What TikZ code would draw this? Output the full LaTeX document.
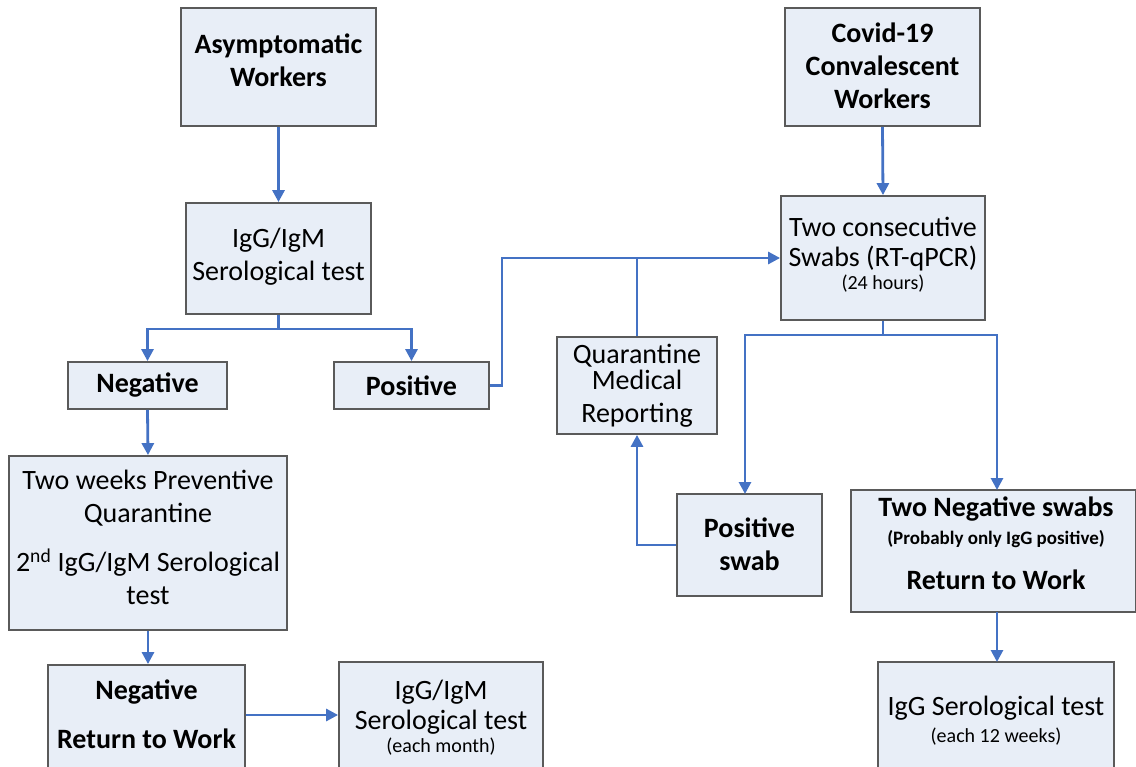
\documentclass[tikz,border=0pt]{standalone}
\usepackage{fontspec}
\setmainfont{Carlito}
\usetikzlibrary{arrows.meta}
\definecolor{boxfill}{HTML}{E8EEF7}
\definecolor{boxline}{HTML}{5A5A5A}
\definecolor{conn}{HTML}{4472C4}
\tikzset{
  box/.style={draw=boxline, line width=1.8pt, fill=boxfill, inner sep=0pt},
  txt/.style={inner sep=0pt, align=center, font=\fontsize{28}{33}\selectfont},
  con/.style={draw=conn, line width=2.8pt, -{Triangle[length=12pt,width=12pt]}},
  conplain/.style={draw=conn, line width=2.8pt},
}
\newcommand{\sm}{\fontsize{20}{24}\selectfont}
\newcommand{\smb}{\fontsize{19}{23}\selectfont\bfseries}
\begin{document}
\begin{tikzpicture}[x=1pt,y=-1pt]
\useasboundingbox (0,0) rectangle (1136,767);
% left column boxes
\node[box, minimum width=195pt, minimum height=118pt] (asym) at (278.5,67) {};
\node[txt] (asymT) at (278.5,60.5) {\textbf{Asymptomatic}\\\textbf{Workers}};
\node[box, minimum width=185pt, minimum height=111pt] (igg1) at (278.5,258.5) {};
\node[txt] (igg1T) at (278.5,256.5) {IgG/IgM\\Serological test};
\node[box, minimum width=159pt, minimum height=47pt] (neg) at (147.5,385.5) {};
\node[txt] (negT) at (147.5,385.5) {\textbf{Negative}};
\node[box, minimum width=155pt, minimum height=47pt] (pos) at (411.5,385.5) {};
\node[txt] (posT) at (411.5,385.5) {\textbf{Positive}};
\node[box, minimum width=278pt, minimum height=174pt] (twoweeks) at (148,543) {};
\node[txt] (twoweeksT) at (148,537) {Two weeks Preventive\\Quarantine\\[16pt]2\textsuperscript{nd} IgG/IgM Serological\\test};
\node[box, minimum width=197pt, minimum height=104pt] (negrtw) at (146.5,717) {};
\node[txt] (negrtwT) at (146.5,714.5) {\textbf{Negative}\\[16pt]\textbf{Return to Work}};
\node[box, minimum width=204pt, minimum height=106pt] (iggmonth) at (441,715) {};
\node[txt] (iggmonthT) at (441,717.5) {IgG/IgM\\[-3pt]Serological test\\[-10pt]{\sm (each month)}};
% right column boxes
\node[box, minimum width=195pt, minimum height=118pt] (covid) at (882.5,67) {};
\node[txt] (covidT) at (882.5,66) {\textbf{Covid-19}\\\textbf{Convalescent}\\\textbf{Workers}};
\node[box, minimum width=204pt, minimum height=124pt] (swabs) at (883,258) {};
\node[txt] (swabsT) at (883,254.5) {Two consecutive\\[-3pt]Swabs (RT-qPCR)\\[-10pt]{\sm (24 hours)}};
\node[box, minimum width=160pt, minimum height=97pt] (quar) at (637,385.5) {};
\node[txt] (quarT) at (637,385.5) {Quarantine\\[-7pt]Medical\\Reporting};
\node[box, minimum width=145pt, minimum height=102pt] (posswab) at (749.5,545) {};
\node[txt] (posswabT) at (749.5,544.5) {\textbf{Positive}\\\textbf{swab}};
\node[box, minimum width=285pt, minimum height=122pt] (twoneg) at (993.5,551) {};
\node[txt] (twonegT) at (996,543.5) {\textbf{Two Negative swabs}\\[-5pt]{\smb (Probably only IgG positive)}\\[12pt]\textbf{Return to Work}};
\node[box, minimum width=236pt, minimum height=106pt] (igg12) at (996,715) {};
\node[txt] (igg12T) at (996,720.5) {IgG Serological test\\[-6pt]{\sm (each 12 weeks)}};
% connectors left
\draw[con, line width=3.2pt] (asym.south) -- (igg1.north);
\coordinate (split1) at (278.5,329);
\draw[conplain] (igg1.south) -- (split1);
\draw[con] (split1) -| (neg.north);
\draw[con] (split1) -| (pos.north);
\draw[con] (neg.south) -- (twoweeks.north);
\draw[con] (twoweeks.south) -- (negrtw.north -| twoweeks.south);
\draw[con] (negrtw.east |- iggmonth.west) -- (iggmonth.west);
% positive to swabs
\coordinate (bend1) at (502,385.5);
\coordinate (bend2) at (502,258);
\draw[con] (pos.east) -- (bend1) -- (bend2) -- (swabs.west);
\coordinate (qjoin) at (637,258);
\draw[conplain] (quar.north) -- (qjoin);
% right
\draw[con] (covid.south) -- (swabs.north);
\coordinate (split2) at (883,335);
\draw[conplain] (swabs.south) -- (split2);
\coordinate (psTop) at (745,494);
\coordinate (tnTop) at (997,490);
\draw[con] (split2) -| (psTop);
\draw[con] (split2) -| (tnTop);
\coordinate (bend3) at (637,545);
\draw[con] (posswab.west) -- (bend3) -- (quar.south);
\coordinate (tnBot) at (997,612);
\coordinate (i12Top) at (997,662);
\draw[con] (tnBot) -- (i12Top);
\end{tikzpicture}
\end{document}
